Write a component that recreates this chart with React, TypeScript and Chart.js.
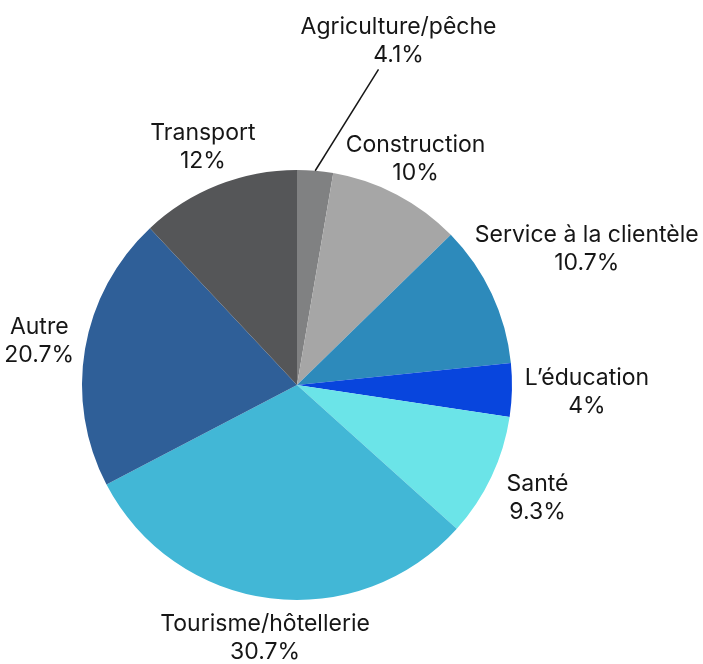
import React, { useEffect, useRef } from "react";
import { Chart, registerables } from "chart.js";

Chart.register(...registerables);

// ---- data ----
const categories = [
  "Agriculture/pêche",
  "Construction",
  "Service à la clientèle",
  "L’éducation",
  "Santé",
  "Tourisme/hôtellerie",
  "Autre",
  "Transport",
];
const shares = [2.7, 10, 10.7, 4, 9.3, 30.7, 20.7, 12];
const shareLabels = ["4.1%", "10%", "10.7%", "4%", "9.3%", "30.7%", "20.7%", "12%"];

// ---- style / layout ----
const colors = [
  "#808182",
  "#a6a6a6",
  "#2d8abb",
  "#0845dd",
  "#6be4e8",
  "#42b7d6",
  "#2f5f98",
  "#555658",
];
const labelDistance = [1.667, 1.186, 1.488, 1.349, 1.237, 1.186, 1.216, 1.19];
const labelAngleShift = [11.6, 0, 0, 0, 0, 0, 0, 0];
const FONT = "23px Inter, 'Noto Sans', sans-serif";
const LINE_GAP = 14;

const outsideLabels = {
  id: "outsideLabels",
  afterDatasetsDraw(chart: any) {
    const ctx = chart.ctx;
    const meta = chart.getDatasetMeta(0);
    ctx.save();
    ctx.font = FONT;
    ctx.fillStyle = "#161616";
    ctx.textAlign = "center";
    ctx.textBaseline = "middle";
    meta.data.forEach((arc: any, i: number) => {
      const { x, y, startAngle, endAngle, outerRadius } = arc.getProps(
        ["x", "y", "startAngle", "endAngle", "outerRadius"],
        true
      );
      const mid = (startAngle + endAngle) / 2;
      const a = mid + (labelAngleShift[i] * Math.PI) / 180;
      const d = outerRadius * labelDistance[i];
      const lx = x + Math.cos(a) * d;
      const ly = y + Math.sin(a) * d;
      ctx.fillText(categories[i], lx, ly - LINE_GAP);
      ctx.fillText(shareLabels[i], lx, ly + LINE_GAP);
      if (labelAngleShift[i] !== 0) {
        ctx.beginPath();
        ctx.strokeStyle = "#161616";
        ctx.lineWidth = 1.5;
        ctx.moveTo(x + Math.cos(mid) * outerRadius, y + Math.sin(mid) * outerRadius);
        ctx.lineTo(lx - 20, ly + 28);
        ctx.stroke();
      }
    });
    ctx.restore();
  },
};

export default function App() {
  const ref = useRef<HTMLCanvasElement | null>(null);
  useEffect(() => {
    if (!ref.current) return;
    const chart = new Chart(ref.current, {
      type: "pie",
      data: {
        labels: categories,
        datasets: [
          {
            data: shares,
            backgroundColor: colors,
            borderWidth: 0,
          },
        ],
      },
      options: {
        responsive: false,
        animation: false,
        layout: { padding: { left: 82, right: 191, top: 170, bottom: 64 } },
        plugins: {
          legend: { display: false },
          tooltip: { enabled: false },
        },
      },
      plugins: [outsideLabels],
    });
    return () => chart.destroy();
  }, []);
  return (
    <div style={{ position: "fixed", left: 0, top: 0, width: 703, height: 664, background: "#fff" }}>
      <canvas ref={ref} width={703} height={664} />
    </div>
  );
}
